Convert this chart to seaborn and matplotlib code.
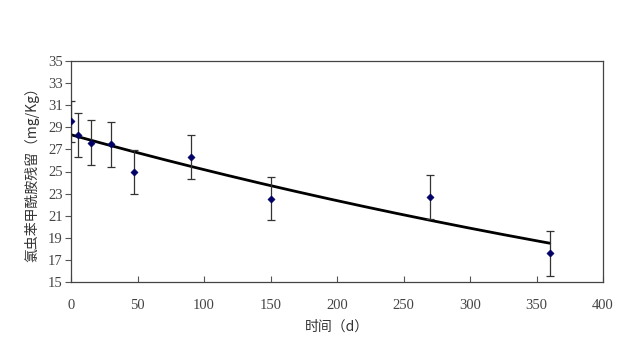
import numpy as np
import pandas as pd
import matplotlib
matplotlib.use("Agg")
import matplotlib.pyplot as plt
import seaborn as sns

days = [0, 5, 15, 30, 47, 90, 150, 270, 360]
residue = [29.55, 28.3, 27.62, 27.45, 24.95, 26.3, 22.52, 22.7, 17.6]
err = [1.85, 2.0, 2.0, 2.0, 2.0, 2.0, 1.95, 2.0, 2.05]
x_ticks = [0, 50, 100, 150, 200, 250, 300, 350, 400]
y_ticks = [15, 17, 19, 21, 23, 25, 27, 29, 31, 33, 35]
xlabel = "时间（d）"
ylabel = "氯虫苯甲酰胺残留（mg/Kg）"

df = pd.DataFrame({"days": days, "residue": residue, "err": err})

# first-order (exponential) trend fitted to the data
coef = np.polyfit(df["days"], np.log(df["residue"]), 1)
fit_x = np.linspace(0, max(days), 200)
fit_df = pd.DataFrame({"days": fit_x, "residue": np.exp(np.polyval(coef, fit_x))})

sns.set_theme(style="white")
cjk = ["Noto Sans CJK SC", "DejaVu Sans"]
plt.rcParams["font.family"] = cjk

fig = plt.figure(figsize=(6.4, 3.58), dpi=100)
ax = fig.add_axes([71 / 640, 1 - 282 / 358, (603 - 71) / 640, (282 - 61) / 358])

sns.lineplot(data=fit_df, x="days", y="residue", ax=ax, color="black", linewidth=2.0, zorder=2)
ax.errorbar(df["days"], df["residue"], yerr=df["err"], fmt="none", ecolor="#333333",
            elinewidth=0.9, capsize=3, capthick=0.9, zorder=3)
sns.scatterplot(data=df, x="days", y="residue", ax=ax, marker="D", s=14, color="#000066",
                edgecolor="#000066", zorder=4)

ax.set_xlim(0, 400)
ax.set_ylim(15, 35)
ax.set_xticks(x_ticks)
ax.set_yticks(y_ticks)
tick_font = {"family": ["Liberation Serif"], "size": 10.5, "color": "#444444"}
ax.set_xticklabels([str(v) for v in x_ticks], **tick_font)
ax.set_yticklabels([str(v) for v in y_ticks], **tick_font)
ax.tick_params(axis="x", direction="in", length=4, width=0.8, color="#555555", bottom=True, pad=12)
ax.tick_params(axis="y", direction="out", length=4, width=0.8, color="#555555", left=True, pad=2)
for sp in ax.spines.values():
    sp.set_color("#444444")
    sp.set_linewidth(0.9)
ax.set_xlabel(xlabel, fontsize=10, color="#333333", labelpad=6)
ax.set_ylabel(ylabel, fontsize=10, color="#333333", labelpad=6)
ax.grid(False)

fig.savefig("out.png", dpi=100)
